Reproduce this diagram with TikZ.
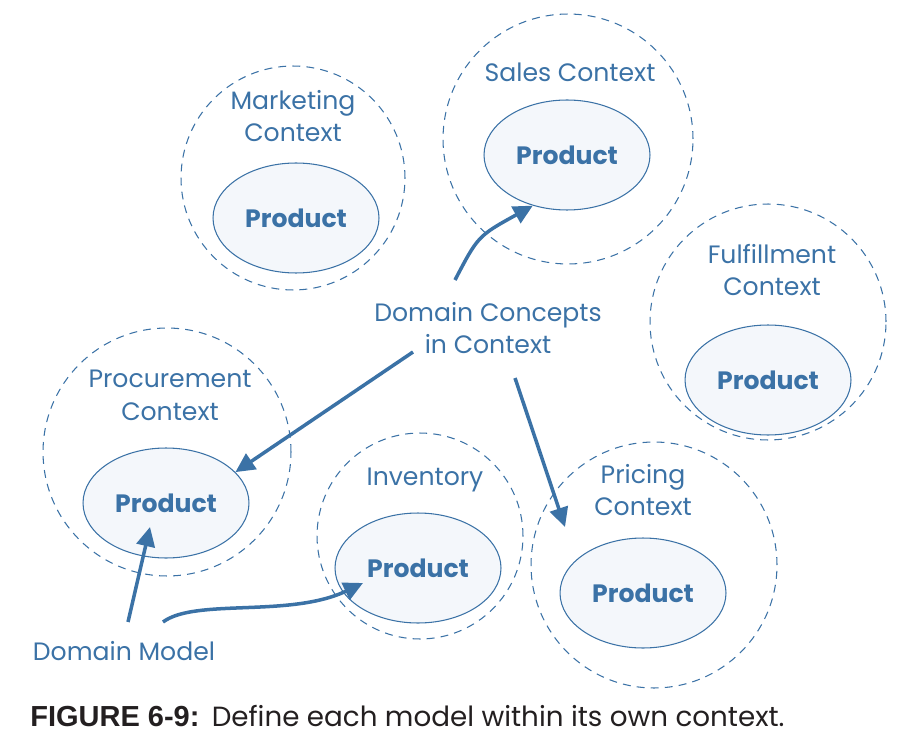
\documentclass[tikz,border=0pt]{standalone}
\usepackage{fontspec}
\setmainfont{Poppins}
\newfontfamily\capfont{Liberation Sans}
\usetikzlibrary{shapes.geometric,arrows.meta}
\definecolor{ctxblue}{HTML}{3B72A6}
\definecolor{prodfill}{HTML}{F4F7FB}
\definecolor{capgray}{HTML}{231F20}
\newcommand\lblsize{\fontsize{14.3pt}{18.7pt}\selectfont}

\tikzset{
  ctx/.style={circle, draw=ctxblue, dash pattern=on 4.5pt off 3.5pt, line width=0.6pt, inner sep=0pt},
  prod/.style={ellipse, draw=ctxblue, fill=prodfill, line width=0.6pt, minimum width=3.32cm, minimum height=2.2cm, inner sep=0pt, text=ctxblue, font=\lblsize\bfseries},
  lbl/.style={text=ctxblue, align=center, font=\lblsize},
  arr/.style={-{Triangle[length=11pt,width=10.5pt]}, draw=ctxblue, line width=2pt},
}

\begin{document}
\begin{tikzpicture}[x=0.02cm, y=-0.02cm]
    \useasboundingbox (0,0) rectangle (911,749);

    % Contexts
    \node[ctx, minimum size=4.48cm] (mktctx) at (293,178) {};
    \node[ctx, minimum size=5.0cm] (salesctx) at (568,139) {};
    \node[ctx, minimum size=4.72cm] (fulctx) at (768,322) {};
    \node[ctx, minimum size=4.96cm] (procctx) at (167,452) {};
    \node[ctx, minimum size=4.12cm] (invctx) at (420,536) {};
    \node[ctx, minimum size=4.92cm] (pricectx) at (654,565) {};

    % Context labels
    \node[lbl] (mktlbl) at (293,116) {Marketing\\Context};
    \node[lbl] (saleslbl) at (570,72) {Sales Context};
    \node[lbl] (fullbl) at (772,270) {Fulfillment\\Context};
    \node[lbl] (proclbl) at (170,395) {Procurement\\Context};
    \node[lbl] (invlbl) at (425,480) {Inventory};
    \node[lbl] (pricelbl) at (643,490) {Pricing\\Context};

    % Products
    \node[prod] (mktprod) at (296,218) {Product};
    \node[prod] (salesprod) at (567,155) {Product};
    \node[prod] (fulprod) at (768,380) {Product};
    \node[prod] (procprod) at (166,503) {Product};
    \node[prod] (invprod) at (418,568) {Product};
    \node[prod] (priceprod) at (643,593) {Product};

    % Domain labels
    \node[lbl] (concepts) at (488,328) {Domain Concepts\\in Context};
    \node[lbl] (model) at (124,651) {Domain Model};

    % Arrows
    \coordinate (cs) at (455,280);
    \coordinate (cp) at (413,352);
    \coordinate (cq) at (515,378);
    \coordinate (cqend) at (565,527);
    \coordinate (ms) at (128,622);
    \coordinate (msend) at (150,527);
    \coordinate (mi) at (163,622);
    \coordinate (miend) at (363,583);
    \draw[arr] (cs) .. controls (478,236) .. (salesprod.236);
    \draw[arr] (cp) -- (procprod.24);
    \draw[arr] (cq) -- (cqend);
    \draw[arr] (ms) -- (msend);
    \draw[arr] (mi) .. controls (195,598) and (290,618) .. (miend);

    % Caption
    \node[anchor=west, text=capgray, font=\fontsize{15.8pt}{18pt}\selectfont, inner sep=0pt] (caption) at (30,716)
        {{\capfont\bfseries\fontsize{16.5pt}{18pt}\selectfont FIGURE 6-9:}\hspace{7pt}Define each model within its own context.};
\end{tikzpicture}
\end{document}
